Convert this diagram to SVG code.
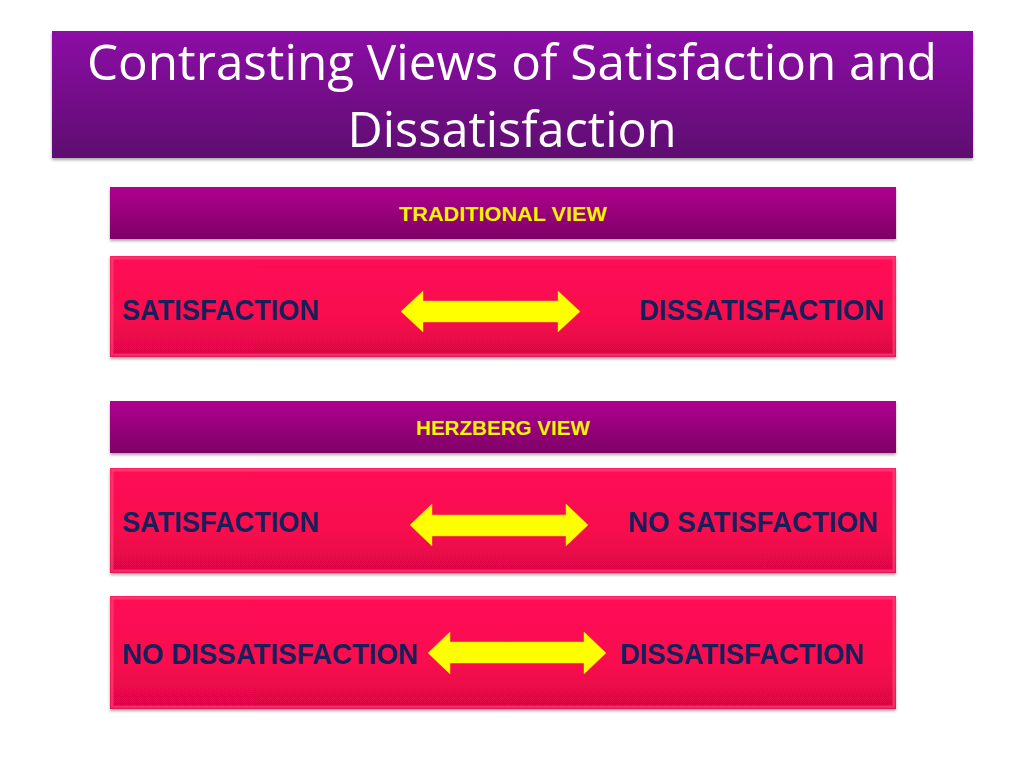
<svg xmlns="http://www.w3.org/2000/svg" width="1024" height="768" viewBox="0 0 1024 768">
<defs>
<linearGradient id="gTitle" x1="0" y1="0" x2="0" y2="1"><stop offset="0" stop-color="#8c0ca6"/><stop offset="1" stop-color="#5e0870"/></linearGradient>
<linearGradient id="gHead" x1="0" y1="0" x2="0" y2="1"><stop offset="0" stop-color="#b0008f"/><stop offset="1" stop-color="#7e0066"/></linearGradient>
<linearGradient id="gRed" x1="0" y1="0" x2="0" y2="1"><stop offset="0" stop-color="#ff0a56"/><stop offset="0.6" stop-color="#f8084e"/><stop offset="1" stop-color="#dc0646"/></linearGradient>
<filter id="sh" x="-5%" y="-20%" width="110%" height="150%"><feDropShadow dx="0" dy="2" stdDeviation="1.5" flood-color="#000" flood-opacity="0.35"/></filter>
</defs>
<style>
.hd{font-family:"Liberation Sans",Arial,sans-serif;font-weight:bold;font-size:20px;fill:#f4f400}
.lb{font-family:"Liberation Sans",Arial,sans-serif;font-weight:bold;font-size:30px;fill:#15205a}
.tt{font-family:"Open Sans","Liberation Sans",sans-serif;font-size:49px;fill:#ffffff}
.bev{fill:none;stroke:#ff5a88;stroke-width:3;opacity:0.5}
.ar{fill:#ffff00;stroke:#e8e000;stroke-width:0.5}
</style>
<rect width="1024" height="768" fill="#ffffff"/>
<g id="title">
<rect x="52" y="31" width="921" height="127" fill="url(#gTitle)" filter="url(#sh)"/>
<text class="tt" x="512" y="80" text-anchor="middle" textLength="850" lengthAdjust="spacingAndGlyphs">Contrasting Views of Satisfaction and</text>
<text class="tt" x="512" y="147" text-anchor="middle" textLength="329" lengthAdjust="spacingAndGlyphs">Dissatisfaction</text>
</g>
<g id="traditional-header">
<rect x="110" y="187" width="786" height="52" fill="url(#gHead)" filter="url(#sh)"/>
<text class="hd" x="503" y="221" text-anchor="middle" textLength="208" lengthAdjust="spacingAndGlyphs">TRADITIONAL VIEW</text>
</g>
<g id="traditional-row">
<rect x="110" y="256" width="786" height="101" fill="url(#gRed)" filter="url(#sh)"/>
<rect class="bev" x="112" y="258" width="782" height="97"/>
<text class="lb" x="122" y="320" textLength="197" lengthAdjust="spacingAndGlyphs">SATISFACTION</text>
<text class="lb" x="884" y="320" text-anchor="end" textLength="245" lengthAdjust="spacingAndGlyphs">DISSATISFACTION</text>
</g>
<g id="herzberg-header">
<rect x="110" y="401" width="786" height="52" fill="url(#gHead)" filter="url(#sh)"/>
<text class="hd" x="503" y="435" text-anchor="middle" textLength="174" lengthAdjust="spacingAndGlyphs">HERZBERG VIEW</text>
</g>
<g id="herzberg-row1">
<rect x="110" y="468" width="786" height="105" fill="url(#gRed)" filter="url(#sh)"/>
<rect class="bev" x="112" y="470" width="782" height="101"/>
<text class="lb" x="122" y="532" textLength="197" lengthAdjust="spacingAndGlyphs">SATISFACTION</text>
<text class="lb" x="878" y="532" text-anchor="end" textLength="250" lengthAdjust="spacingAndGlyphs">NO SATISFACTION</text>
</g>
<g id="herzberg-row2">
<rect x="110" y="596" width="786" height="113" fill="url(#gRed)" filter="url(#sh)"/>
<rect class="bev" x="112" y="598" width="782" height="109"/>
<text class="lb" x="122" y="664" textLength="296" lengthAdjust="spacingAndGlyphs">NO DISSATISFACTION</text>
<text class="lb" x="864" y="664" text-anchor="end" textLength="244" lengthAdjust="spacingAndGlyphs">DISSATISFACTION</text>
</g>
<g id="connectors">
<polygon class="ar" points="401,311.5 423,291 423,301 558,301 558,291 580,311.5 558,332 558,322 423,322 423,332"/>
<polygon class="ar" points="410,525 432,504 432,515 566,515 566,504 588,525 566,546 566,536 432,536 432,546"/>
<polygon class="ar" points="428,653 450,632 450,642 584,642 584,632 606,653 584,674 584,663 450,663 450,674"/>
</g>
</svg>
